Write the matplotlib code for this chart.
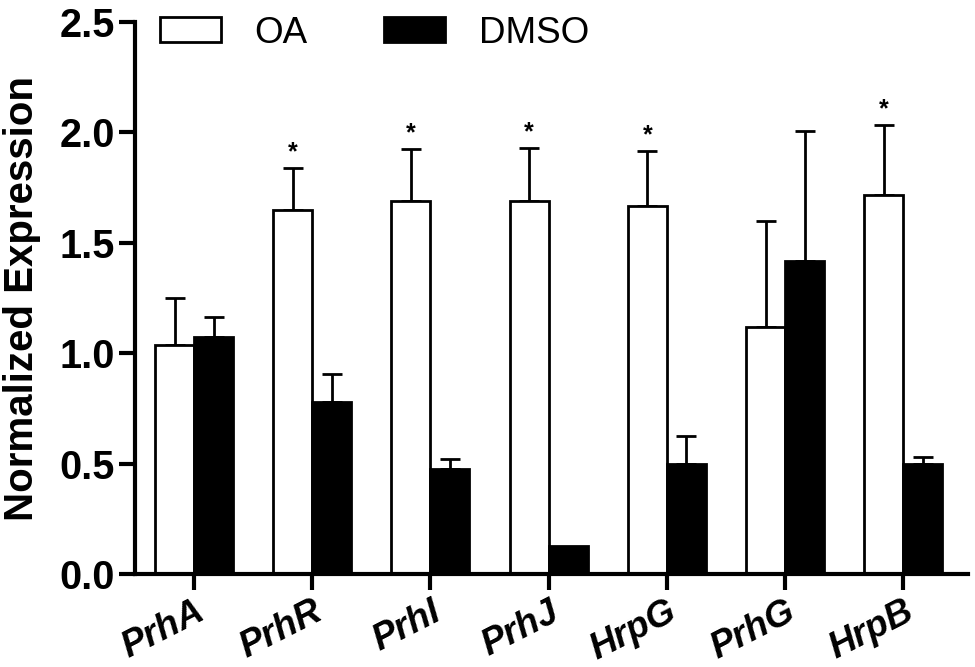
import matplotlib

matplotlib.use("Agg")
import matplotlib.pyplot as plt
import matplotlib.transforms as mtransforms
import numpy as np

plt.rcParams["font.family"] = ["Liberation Sans", "DejaVu Sans"]

genes = ["PrhA", "PrhR", "PrhI", "PrhJ", "HrpG", "PrhG", "HrpB"]
oa_mean = [1.04, 1.65, 1.69, 1.69, 1.665, 1.12, 1.715]
oa_err = [0.21, 0.19, 0.235, 0.24, 0.25, 0.48, 0.32]
dmso_mean = [1.075, 0.78, 0.475, 0.13, 0.50, 1.42, 0.50]
dmso_err = [0.09, 0.125, 0.045, 0.0, 0.125, 0.585, 0.033]
significant = [False, True, True, True, True, False, True]
yticks = [0.0, 0.5, 1.0, 1.5, 2.0, 2.5]

x = np.arange(len(genes))
w = 0.33
lw = 2.0

fig = plt.figure(figsize=(9.75, 6.67), dpi=100)
ax = fig.add_axes([0.1385, 0.139, 0.8545, 0.828])

ax.bar(x - w / 2, oa_mean, w, color="white", edgecolor="black", linewidth=lw, label="OA", zorder=2)
ax.bar(x + w / 2, dmso_mean, w, color="black", edgecolor="black", linewidth=lw, label="DMSO", zorder=2)

# upper error bars only
zeros = np.zeros(len(genes))
ax.errorbar(x - w / 2, oa_mean, yerr=[zeros, oa_err], fmt="none", ecolor="black",
            elinewidth=lw, capsize=7.5, capthick=lw, zorder=1)
dm_err = np.array(dmso_err)
has = dm_err > 0
ax.errorbar((x + w / 2)[has], np.array(dmso_mean)[has], yerr=[zeros[has], dm_err[has]], fmt="none",
            ecolor="black", elinewidth=lw, capsize=7.5, capthick=lw, zorder=1)

for i, sig in enumerate(significant):
    if sig:
        ax.text(x[i] - w / 2, oa_mean[i] + oa_err[i] + 0.07, "*", ha="center", va="center",
                fontsize=18, fontweight="bold")

ax.set_xlim(-0.5, 6.55)
ax.set_ylim(0, 2.5)
ax.set_yticks(yticks)
ax.set_yticklabels([f"{v:.1f}" for v in yticks], fontsize=28.5, fontweight="bold")
ax.set_xticks(x)
ax.set_xticklabels(genes, fontsize=26.5, fontweight="bold", fontstyle="italic",
                   rotation=27, ha="right", rotation_mode="anchor")
offset = mtransforms.ScaledTranslation(7 / 100, 2 / 100, fig.dpi_scale_trans)
for lab in ax.get_xticklabels():
    lab.set_transform(lab.get_transform() + offset)

for side in ["top", "right"]:
    ax.spines[side].set_visible(False)
for side in ["left", "bottom"]:
    ax.spines[side].set_linewidth(3)
ax.tick_params(axis="both", width=3, length=11.5, pad=3)

ax.set_ylabel("Normalized Expression", fontsize=29, fontweight="bold")
ax.yaxis.set_label_coords(-0.113, 0.5)

ax.legend(loc="center left", bbox_to_anchor=(0.030, 0.980), ncol=2, frameon=False,
          fontsize=26.5, handlelength=1.65, handleheight=0.65, handletextpad=0.92,
          columnspacing=2.08, borderpad=0, borderaxespad=0)

fig.savefig("out.png", dpi=100)
